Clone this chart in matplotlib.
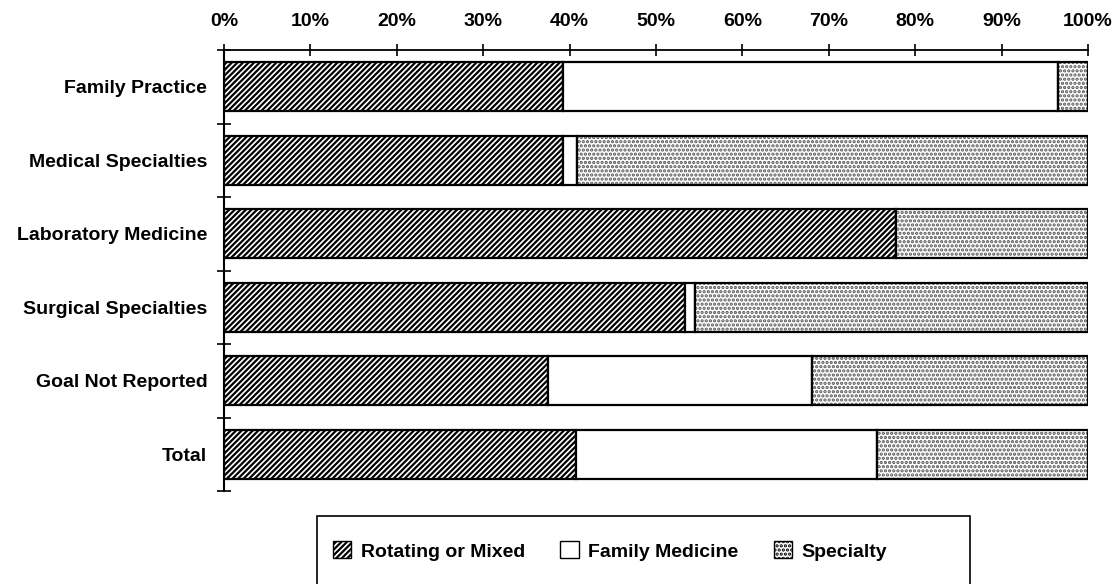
import matplotlib
matplotlib.use("Agg")
import matplotlib.pyplot as plt
from matplotlib.patches import Rectangle
import numpy as np

plt.rcParams['font.family'] = ['Liberation Sans', 'DejaVu Sans']
plt.rcParams['hatch.linewidth'] = 1.6

categories = ["Family Practice", "Medical Specialties", "Laboratory Medicine",
              "Surgical Specialties", "Goal Not Reported", "Total"]
rotating = [39.2, 39.2, 77.8, 53.4, 37.5, 40.7]
family_med = [57.3, 1.7, 0.0, 1.1, 30.6, 34.9]
specialty = [3.5, 59.1, 22.2, 45.5, 31.9, 24.4]
series_names = ["Rotating or Mixed", "Family Medicine", "Specialty"]
xticks = list(range(0, 101, 10))
xtick_labels = [f"{t}%" for t in xticks]

W, H = 1117, 584
fig = plt.figure(figsize=(W / 100, H / 100), dpi=100)
ax = fig.add_axes([224 / W, (H - 491) / H, (1088 - 224) / W, (491 - 50) / H])

y = np.arange(len(categories))
h = 0.66
left = np.zeros(len(categories))
styles = [dict(facecolor='white', hatch='//////', edgecolor='black'),
          dict(facecolor='white', hatch=None, edgecolor='black'),
          dict(facecolor='white', hatch='....', edgecolor='#555555')]
handles = []
for vals, name, st in zip([rotating, family_med, specialty], series_names, styles):
    vals = np.array(vals)
    b = ax.barh(y, vals, left=left, height=h, linewidth=0, label=name, **st)
    ax.barh(y, vals, left=left, height=h, fill=False, edgecolor='black', linewidth=1.6)
    left = left + vals
    handles.append(b)

ax.set_xlim(0, 100)
ax.set_ylim(len(categories) - 0.5, -0.5)
ax.xaxis.tick_top()
ax.set_xticks(xticks)
ax.set_xticklabels(xtick_labels, fontsize=14, fontweight='bold')
ax.tick_params(axis='x', direction='inout', length=9, width=1.2, pad=10)

ax.set_yticks(y)
ax.set_yticklabels(categories, fontsize=14, fontweight='bold')
ax.tick_params(axis='y', which='major', length=0, pad=12)
ax.set_yticks(np.arange(-0.5, len(categories), 1.0), minor=True)
ax.tick_params(axis='y', which='minor', direction='inout', length=10, width=1.2)

for s in ['right', 'bottom']:
    ax.spines[s].set_visible(False)
ax.spines['top'].set_linewidth(1.3)
ax.spines['left'].set_linewidth(1.5)

# legend frame (cropped at the bottom of the image)
fig.patches.append(Rectangle((317 / W, -0.05), (970 - 317) / W, (H - 516) / H + 0.05,
                             transform=fig.transFigure, facecolor='none',
                             edgecolor='black', linewidth=1.2))
leg = fig.legend(handles=handles, labels=series_names, loc='center',
                 bbox_to_anchor=(610 / W, (H - 551) / H),
                 ncol=3, frameon=False, handlelength=0.95, handleheight=0.95,
                 handletextpad=0.5, columnspacing=1.8,
                 prop=dict(size=14, weight='bold'))
for p in leg.get_patches():
    p.set_linewidth(1.0)
    p.set_edgecolor('black')

fig.savefig("out.png", dpi=100)
